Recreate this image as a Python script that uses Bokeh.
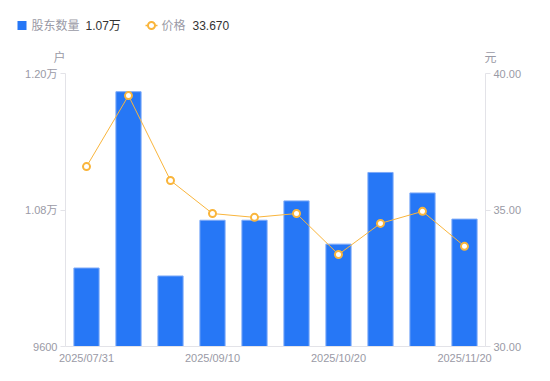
from bokeh.plotting import figure
from bokeh.layouts import column
from bokeh.models import (Range1d, LinearAxis, FixedTicker, NumeralTickFormatter,
                          ColumnDataSource)
from bokeh.core.properties import value
from bokeh.embed import file_html
from bokeh.resources import INLINE

dates = ["2025/07/31", "2025/08/20", "2025/08/31", "2025/09/10", "2025/09/20",
         "2025/09/30", "2025/10/20", "2025/10/31", "2025/11/10", "2025/11/20"]
holders = [10290, 11840, 10220, 10710, 10710, 10880, 10500, 11130, 10950, 10720]
prices = [36.59, 39.19, 36.08, 34.87, 34.73, 34.87, 33.37, 34.51, 34.95, 33.67]
left_ticks = [9600, 10800, 12000]
left_tick_labels = ["9600", "1.08万", "1.20万"]
right_ticks = [30, 35, 40]
x_tick_idx = [0, 3, 6, 9]
series_names = ["股东数量", "价格"]
units = ["户", "元"]

FONT = "Liberation Sans, Noto Sans CJK SC"
GRAY = "#9a9aa6"
AXIS = "#e3e3e8"
BLUE = "#2677f6"
ORANGE = "#f9b53c"
DARK = "#333333"

W = 550
TOP_H = 64

# ---------------- header (legend + unit titles) ----------------
h = figure(width=W, height=TOP_H, output_backend="svg", toolbar_location=None,
           x_range=Range1d(0, W), y_range=Range1d(TOP_H, 0),
           min_border=0, min_border_left=0, min_border_right=0,
           min_border_top=0, min_border_bottom=0)
h.frame_align = False
h.axis.visible = False
h.grid.visible = False
h.outline_line_color = None

h.rect(x=[21.5], y=[25], width=9, height=9, fill_color=BLUE, line_color=None)
h.segment(x0=[145], y0=[25], x1=[157], y1=[25], line_color=ORANGE, line_width=1.5)
h.scatter(x=[151], y=[25], size=7, fill_color="white", line_color=ORANGE, line_width=2)

legend_texts = [series_names[0], f"{holders[-1] / 10000:.2f}万",
                series_names[1], f"{prices[-1]:.3f}"]
h.text(x=[31, 85, 161, 192], y=[25, 25, 25, 25], text=legend_texts,
       text_color=[GRAY, DARK, GRAY, DARK], text_font=value(FONT),
       text_font_size="12px", text_baseline="middle", text_align="left")
h.text(x=[59, 490], y=[57, 57], text=units, text_color=GRAY, text_font=value(FONT),
       text_font_size="12px", text_baseline="middle", text_align="center")

# ---------------- main chart ----------------
xs = list(range(len(dates)))
src = ColumnDataSource(dict(x=xs, h=holders, p=prices))

p = figure(width=W, height=381 - TOP_H, output_backend="svg", toolbar_location=None,
           x_range=Range1d(-0.5, len(dates) - 0.5), y_range=Range1d(9600, 12000),
           min_border_left=65, min_border_right=65, min_border_top=73 - TOP_H,
           min_border_bottom=35)
p.frame_align = False
p.extra_y_ranges = {"price": Range1d(30, 40)}
p.outline_line_color = None
p.xgrid.visible = False
p.ygrid.visible = False

p.vbar(x="x", top="h", bottom=9600, width=0.6, source=src,
       fill_color=BLUE, line_color="#7eaaf8", line_width=1)
p.line(x="x", y="p", source=src, y_range_name="price", line_color=ORANGE, line_width=1)
p.scatter(x="x", y="p", source=src, y_range_name="price", size=7,
          fill_color="white", line_color=ORANGE, line_width=2)

xa = p.xaxis[0]
xa.ticker = FixedTicker(ticks=x_tick_idx)
xa.major_label_overrides = {i: dates[i] for i in x_tick_idx}
xa.major_tick_in = 0
xa.major_tick_out = 0
xa.minor_tick_line_color = None
xa.axis_line_color = AXIS
xa.major_label_text_color = GRAY
xa.major_label_text_font_size = "11px"
xa.major_label_text_font = FONT
xa.major_label_standoff = 5

ya = p.yaxis[0]
ya.ticker = FixedTicker(ticks=left_ticks)
ya.major_label_overrides = {t: l for t, l in zip(left_ticks, left_tick_labels)}
ya.major_tick_in = 0
ya.major_tick_out = 5
ya.major_tick_line_color = AXIS
ya.minor_tick_line_color = None
ya.axis_line_color = AXIS
ya.major_label_text_color = GRAY
ya.major_label_text_font_size = "11px"
ya.major_label_text_font = FONT
ya.major_label_standoff = 3

ra = LinearAxis(y_range_name="price", ticker=FixedTicker(ticks=right_ticks),
                formatter=NumeralTickFormatter(format="0.00"))
ra.major_tick_in = 0
ra.major_tick_out = 5
ra.major_tick_line_color = AXIS
ra.minor_tick_line_color = None
ra.axis_line_color = AXIS
ra.major_label_text_color = GRAY
ra.major_label_text_font_size = "11px"
ra.major_label_text_font = FONT
ra.major_label_standoff = 3
p.add_layout(ra, "right")

layout = column(h, p, spacing=0)
open("out.html", "w").write(file_html(layout, INLINE))
